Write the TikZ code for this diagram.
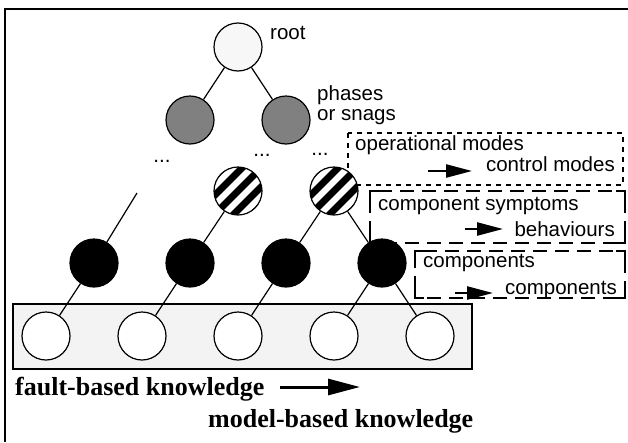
\documentclass[tikz,border=0pt]{standalone}
\usepackage{fontspec}
\setmainfont{Liberation Serif}
\setsansfont{Liberation Sans}
\usetikzlibrary{arrows.meta,calc}
\definecolor{rootfill}{HTML}{F7F7F7}
\definecolor{midgray}{HTML}{808080}
\definecolor{boxfill}{HTML}{F3F3F3}
\tikzset{
  nd/.style={circle,draw,line width=1.2pt,minimum size=48pt,inner sep=0pt},
  hatched/.style={nd,fill=white,path picture={
      \begin{scope}[shift={(path picture bounding box.center)}]
        \foreach \k in {-3,...,3}
          \draw[line width=7pt] ($(\k*9.5,\k*9.5)+(-40,40)$) -- ($(\k*9.5,\k*9.5)+(40,-40)$);
      \end{scope}}},
  lbl/.style={font=\fontsize{20.5}{22}\selectfont\sffamily,inner sep=0pt},
  big/.style={font=\fontsize{26}{28}\selectfont\bfseries\rmfamily,inner sep=0pt},
  edge/.style={line width=1.2pt},
  dotbox/.style={line width=2pt,dash pattern=on 5pt off 5pt},
  dashbox/.style={line width=2pt,dash pattern=on 14pt off 8pt},
  corner/.style={line width=2pt},
  arr/.style={line width=2.4pt,-{Triangle[length=26pt,width=13pt]}},
  bigarr/.style={line width=3pt,-{Triangle[length=32pt,width=16pt]}}
}
\begin{document}
\begin{tikzpicture}[x=1pt,y=-1pt]
\useasboundingbox (0,0) rectangle (628,442);
% frame (top and left)
\draw[line width=1.8pt] (5,442) -- (5,9) -- (628,9);
% bottom grey box
\draw[line width=1.2pt,fill=boxfill] (13,304) rectangle (472,369);
% dotted box 1
\draw[dotbox] (348,133) rectangle (623,185);
% dashed box 2
\draw[dashbox] (378,191) -- (617,191);
\draw[dashbox] (625,199) -- (625,235);
\draw[dashbox] (617,243) -- (378,243);
\draw[dashbox] (370,235) -- (370,199);
\draw[corner] (370,200) -- (370,191) -- (379,191);
\draw[corner] (616,191) -- (625,191) -- (625,200);
\draw[corner] (625,234) -- (625,243) -- (616,243);
\draw[corner] (379,243) -- (370,243) -- (370,234);
% dashed box 3
\draw[dashbox] (423,251) -- (617,251);
\draw[dashbox] (625,259) -- (625,290);
\draw[dashbox] (617,298) -- (423,298);
\draw[dashbox] (415,290) -- (415,259);
\draw[corner] (415,260) -- (415,251) -- (424,251);
\draw[corner] (616,251) -- (625,251) -- (625,260);
\draw[corner] (625,289) -- (625,298) -- (616,298);
\draw[corner] (424,298) -- (415,298) -- (415,289);
% nodes
\node[nd,fill=rootfill] (root) at (238,47) {};
\node[nd,fill=midgray] (g1) at (190,120) {};
\node[nd,fill=midgray] (g2) at (286,120) {};
\node[hatched] (h1) at (238,191) {};
\node[hatched] (h2) at (334,191) {};
\node[nd,fill=black] (b1) at (94,263) {};
\node[nd,fill=black] (b2) at (190,263) {};
\node[nd,fill=black] (b3) at (286,263) {};
\node[nd,fill=black] (b4) at (382,263) {};
\node[nd,fill=white] (w1) at (46,336) {};
\node[nd,fill=white] (w2) at (142,336) {};
\node[nd,fill=white] (w3) at (238,336) {};
\node[nd,fill=white] (w4) at (334,336) {};
\node[nd,fill=white] (w5) at (430,336) {};
\coordinate (free) at (137,193);
% edges
\draw[edge] (root) -- (g1);
\draw[edge] (root) -- (g2);
\draw[edge] (h1) -- (b2);
\draw[edge] (h2) -- (b3);
\draw[edge] (h2) -- (b4);
\draw[edge] (free) -- (b1);
\draw[edge] (b1) -- (w1);
\draw[edge] (b2) -- (w2);
\draw[edge] (b3) -- (w3);
\draw[edge] (b4) -- (w4);
\draw[edge] (b4) -- (w5);
% dots
\node[lbl,anchor=base] (d1) at (162,162) {...};
\node[lbl,anchor=base] (d2) at (262,156) {...};
\node[lbl,anchor=base] (d3) at (320,155) {...};
% labels
\node[lbl,anchor=base west] (troot) at (270,39) {root};
\node[lbl,anchor=base west] (tph) at (317,100) {phases};
\node[lbl,anchor=base west] (tsn) at (317,120) {or snags};
\node[lbl,anchor=base west] (top) at (355,150) {operational modes};
\node[lbl,anchor=base east] (tcm) at (615,171) {control modes};
\node[lbl,anchor=base west] (tcs) at (378,210) {component symptoms};
\node[lbl,anchor=base east] (tbe) at (615,236) {behaviours};
\node[lbl,anchor=base west] (tc1) at (423,267) {components};
\node[lbl,anchor=base east] (tc2) at (617,294) {components};
% arrows
\coordinate (a1s) at (428,171); \coordinate (a1e) at (472,171);
\coordinate (a2s) at (465,229); \coordinate (a2e) at (503,229);
\coordinate (a3s) at (455,293); \coordinate (a3e) at (493,293);
\draw[arr] (a1s) -- (a1e);
\draw[arr] (a2s) -- (a2e);
\draw[arr] (a3s) -- (a3e);
\node[big,anchor=base west] (tfb) at (15,395) {fault-based knowledge};
\node[big,anchor=base west] (tmb) at (208,427) {model-based knowledge};
\coordinate (b5s) at (280,387); \coordinate (b5e) at (360,387);
\draw[bigarr] (b5s) -- (b5e);
\end{tikzpicture}
\end{document}
